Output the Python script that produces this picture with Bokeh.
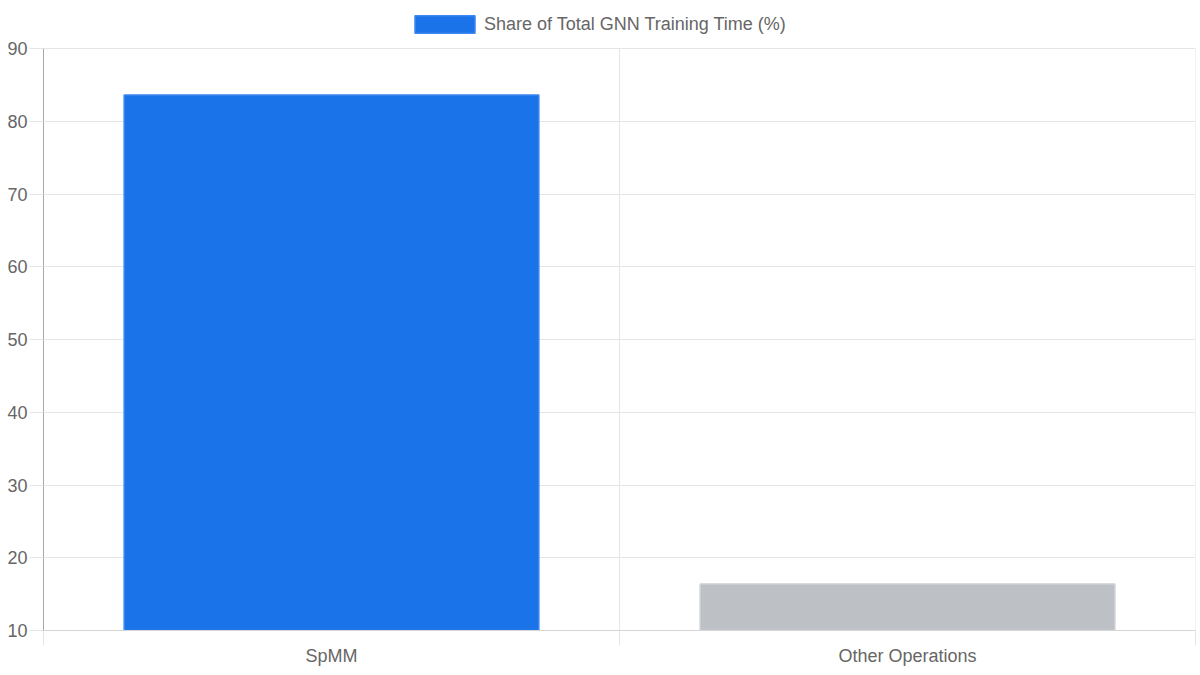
from bokeh.plotting import figure
from bokeh.models import (Range1d, ColumnDataSource, LinearAxis, FixedTicker, Grid,
                          Legend, LegendItem)
from bokeh.embed import file_html
from bokeh.resources import INLINE

categories = ["SpMM", "Other Operations"]
shares = [83.6, 16.4]
fill_colors = ["#1a73e8", "#bdc1c6"]
line_colors = ["#3d87f0", "#cdd0d4"]
y_ticks = [10, 20, 30, 40, 50, 60, 70, 80, 90]
legend_label = "Share of Total GNN Training Time (%)"

FONT = "Liberation Sans"
FS = "18px"
TXT = "#666666"
GRID = "#e5e5e5"

# layout (pixels)
FIG_W, FIG_H = 1197, 672
BORDER_L, BORDER_R, BORDER_B = 43, 2, 42
TOP_GAP = 48  # free space above the highest tick, holds the legend

y_lo, y_hi = min(y_ticks), max(y_ticks)
frame_h = FIG_H - BORDER_B
plot_h = frame_h - TOP_GAP
y_end = y_lo + (y_hi - y_lo) * frame_h / plot_h

centers = [i + 0.5 for i in range(len(categories))]
bounds = list(range(len(categories) + 1))

src = ColumnDataSource(dict(x=centers, top=shares, fill=fill_colors, line=line_colors))

p = figure(width=FIG_W, height=FIG_H, output_backend="svg", toolbar_location=None,
           x_range=Range1d(0, len(categories)), y_range=Range1d(y_lo, y_end),
           x_axis_location=None, y_axis_location=None,
           min_border_left=BORDER_L, min_border_right=BORDER_R,
           min_border_top=0, min_border_bottom=BORDER_B)
p.outline_line_color = None
p.background_fill_color = "white"
p.border_fill_color = "white"
p.center = []

# horizontal grid
p.add_layout(Grid(dimension=1, ticker=FixedTicker(ticks=y_ticks), grid_line_color=GRID))
# vertical grid lines at category boundaries, limited to the tick span
p.segment(x0=bounds, y0=[y_lo] * len(bounds), x1=bounds, y1=[y_hi] * len(bounds),
          line_color=GRID, line_width=1)

r = p.vbar(x="x", top="top", bottom=0, width=0.72, source=src,
           fill_color="fill", line_color="line", line_width=1.5)

# y axis
yax = LinearAxis(ticker=FixedTicker(ticks=y_ticks), bounds=(y_lo, y_hi))
yax.axis_line_color = "#a8a8a8"
yax.major_tick_line_color = GRID
yax.major_tick_in = 0
yax.major_tick_out = 14
yax.minor_tick_line_color = None
yax.major_label_standoff = 2
yax.major_label_text_font = FONT
yax.major_label_text_font_size = FS
yax.major_label_text_color = TXT
p.add_layout(yax, "left")

# x axis: tick marks at category boundaries
xtick = LinearAxis(ticker=FixedTicker(ticks=bounds))
xtick.axis_line_color = "#d6d6d6"
xtick.major_tick_line_color = GRID
xtick.major_tick_in = 0
xtick.major_tick_out = 15
xtick.minor_tick_line_color = None
xtick.major_label_overrides = {b: "" for b in bounds}
xtick.major_label_text_font_size = "1px"
xtick.major_label_standoff = 0
p.add_layout(xtick, "below")

# x axis: category labels at centers
xlab = LinearAxis(ticker=FixedTicker(ticks=centers))
xlab.axis_line_color = None
xlab.major_tick_line_color = None
xlab.major_tick_in = 0
xlab.major_tick_out = 0
xlab.minor_tick_line_color = None
xlab.major_label_overrides = {c: n for c, n in zip(centers, categories)}
xlab.major_label_standoff = 0
xlab.major_label_text_font = FONT
xlab.major_label_text_font_size = FS
xlab.major_label_text_color = TXT
p.add_layout(xlab, "below")

legend = Legend(items=[LegendItem(label=legend_label, renderers=[r], index=0)],
                location=(364, frame_h - 35), orientation="horizontal",
                glyph_width=75, glyph_height=22, label_height=22,
                label_text_font=FONT, label_text_font_size=FS, label_text_color=TXT,
                label_standoff=2, padding=0, margin=0, border_line_color=None,
                background_fill_alpha=0)
p.add_layout(legend, "center")

open("out.html", "w").write(file_html(p, INLINE))
